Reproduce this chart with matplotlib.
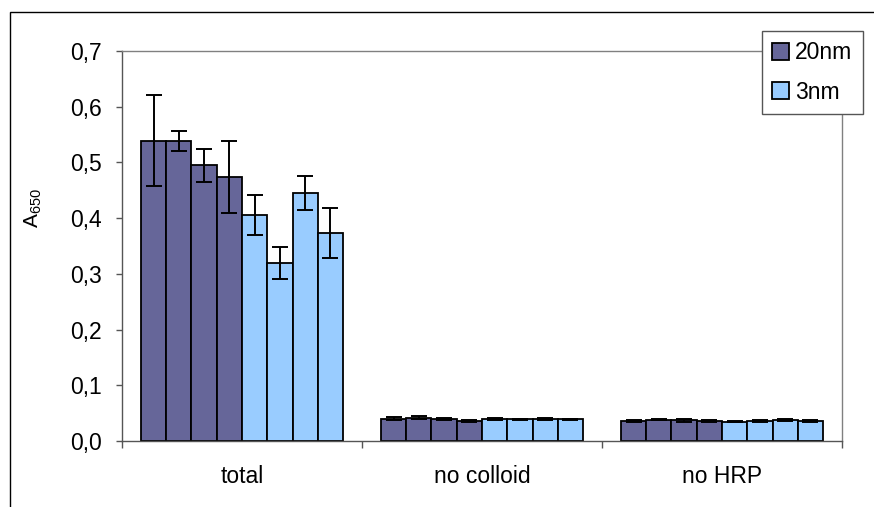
"""Absorbance bar chart: 20nm vs 3nm colloid, four replicates each."""

import numpy as np
import matplotlib
matplotlib.use("Agg")
import matplotlib.pyplot as plt
from matplotlib.patches import Rectangle, Patch

plt.rcParams['font.family'] = ['Liberation Sans', 'DejaVu Sans']
plt.rcParams['mathtext.default'] = 'regular'

categories = ['total', 'no colloid', 'no HRP']

# four replicates per condition, one row per category
values_20nm = [
    [0.539, 0.539, 0.495, 0.474],
    [0.040, 0.042, 0.039, 0.036],
    [0.036, 0.038, 0.037, 0.036],
]
errors_20nm = [
    [0.082, 0.018, 0.030, 0.065],
    [0.003, 0.002, 0.002, 0.001],
    [0.002, 0.001, 0.002, 0.001],
]
values_3nm = [
    [0.406, 0.320, 0.445, 0.374],
    [0.039, 0.039, 0.039, 0.039],
    [0.035, 0.036, 0.038, 0.036],
]
errors_3nm = [
    [0.036, 0.029, 0.030, 0.045],
    [0.002, 0.001, 0.002, 0.001],
    [0.001, 0.002, 0.002, 0.001],
]

yticks = [0.0, 0.1, 0.2, 0.3, 0.4, 0.5, 0.6, 0.7]
ytick_labels = ['0,0', '0,1', '0,2', '0,3', '0,4', '0,5', '0,6', '0,7']

color_20 = '#666699'
color_3 = '#99CCFF'
fs = 16.5

fig = plt.figure(figsize=(8.74, 5.07), dpi=100)
ax = fig.add_axes([122 / 874, 66 / 507, 720 / 874, 390 / 507])

# outer chart frame (right/bottom edges fall outside the picture)
fig.patches.append(Rectangle((9.5 / 874, -0.1), 1.2, (507 - 12) / 507 + 0.1,
                             transform=fig.transFigure, fill=False,
                             edgecolor='black', linewidth=1.0))

n_bars = 8
width = 1.0 / (n_bars + 1.5)
x = np.arange(len(categories))

err_kw = dict(ecolor='black', elinewidth=1.4, capsize=5.5, capthick=1.4)
for j in range(4):
    offs = (j - 3.5) * width
    ax.bar(x + offs, [v[j] for v in values_20nm], width, color=color_20,
           edgecolor='black', linewidth=1.3, zorder=2)
    ax.errorbar(x + offs, [v[j] for v in values_20nm],
                yerr=[e[j] for e in errors_20nm], fmt='none', zorder=3, **err_kw)
for j in range(4):
    offs = (j + 4 - 3.5) * width
    ax.bar(x + offs, [v[j] for v in values_3nm], width, color=color_3,
           edgecolor='black', linewidth=1.3, zorder=2)
    ax.errorbar(x + offs, [v[j] for v in values_3nm],
                yerr=[e[j] for e in errors_3nm], fmt='none', zorder=3, **err_kw)

ax.set_xlim(-0.5, len(categories) - 0.5)
ax.set_ylim(0, 0.7)
ax.set_yticks(yticks)
ax.set_yticklabels(ytick_labels, fontsize=fs)
ax.tick_params(axis='y', direction='out', length=4.5, width=1, color='#555555', pad=10)

# tick marks between categories, labels at centres
ax.set_xticks(np.arange(len(categories) + 1) - 0.5)
ax.set_xticklabels([])
ax.tick_params(axis='x', which='major', direction='out', length=5, width=1, color='#555555')
ax.set_xticks(x, minor=True)
ax.set_xticklabels(categories, minor=True, fontsize=fs)
ax.tick_params(axis='x', which='minor', length=0, pad=17)

for side in ['left', 'bottom']:
    ax.spines[side].set_color('#555555')
    ax.spines[side].set_linewidth(1.0)
for side in ['top', 'right']:
    ax.spines[side].set_color('#808080')
    ax.spines[side].set_linewidth(1.0)

ax.set_ylabel('A$_{650}$', fontsize=15)
ax.yaxis.set_label_coords((44 - 122) / 720, (441 - 208) / 390)

handles = [Patch(facecolor=color_20, edgecolor='black', linewidth=1.3),
           Patch(facecolor=color_3, edgecolor='black', linewidth=1.3)]
leg = fig.legend(handles, ['20nm', '3nm'], loc='upper left',
                 bbox_to_anchor=(762 / 874, 1 - 31 / 507), fontsize=fs,
                 frameon=True, fancybox=False, handlelength=0.74, handleheight=0.74,
                 handletextpad=0.26, labelspacing=0.72, borderpad=0.45,
                 borderaxespad=0)
leg.get_frame().set_edgecolor('#555555')
leg.get_frame().set_linewidth(1.0)
leg.get_frame().set_alpha(1.0)

fig.savefig('out.png', dpi=100)
